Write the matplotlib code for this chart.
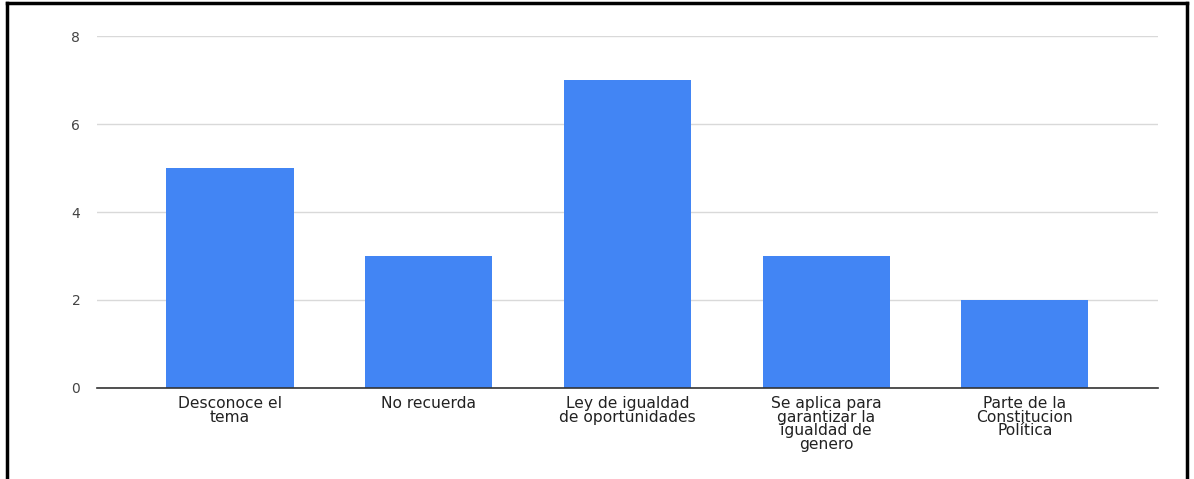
import matplotlib.pyplot as plt

categories = [
    "Desconoce el\ntema",
    "No recuerda",
    "Ley de igualdad\nde oportunidades",
    "Se aplica para\ngarantizar la\nigualdad de\ngenero",
    "Parte de la\nConstitucion\nPolítica",
]
values = [5, 3, 7, 3, 2]
yticks = [0, 2, 4, 6, 8]

plt.rcParams["font.family"] = ["DejaVu Sans"]

fig = plt.figure(figsize=(11.94, 4.79), dpi=100)
ax = fig.add_axes([0.0812, 0.19, 0.8886, 0.7348])

x = list(range(len(categories)))
ax.bar(x, values, width=0.64, color="#4285F4", zorder=3)

ax.set_xlim(-0.67, 4.67)
ax.set_ylim(0, 8)
ax.set_yticks(yticks)
ax.yaxis.grid(True, color="#d9d9d9", linewidth=1, zorder=0)
ax.set_xticks(x)
ax.set_xticklabels(categories, fontsize=11.2, color="#222222", linespacing=0.87)
ax.tick_params(axis="x", length=0, pad=6)
ax.tick_params(axis="y", length=0, pad=12, labelsize=10, labelcolor="#444444")
for s in ["top", "right", "left"]:
    ax.spines[s].set_visible(False)
ax.spines["bottom"].set_color("#333333")
ax.spines["bottom"].set_linewidth(1.2)
ax.spines["bottom"].set_zorder(4)

# frame around the picture (no bottom edge)
lx, rx, ty = 7 / 1194, 1187 / 1194, 1 - 3 / 479
for xs, ys in [([lx, lx], [0, ty]), ([rx, rx], [0, ty]), ([lx, rx], [ty, ty])]:
    fig.add_artist(plt.Line2D(xs, ys, color="black", linewidth=2.5, transform=fig.transFigure))

fig.savefig("out.png", dpi=100)
